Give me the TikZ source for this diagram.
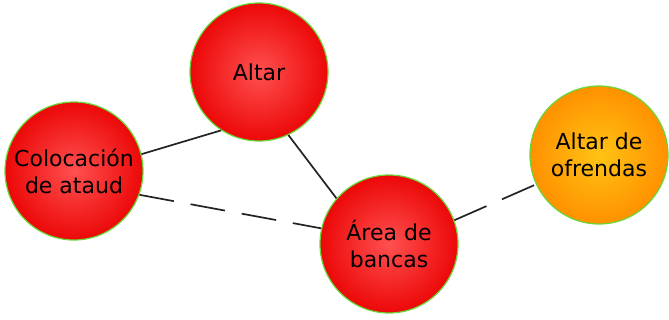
\documentclass[tikz,border=0pt]{standalone}
\usepackage{fontspec}
\setmainfont{DejaVu Sans}
\usepackage{xcolor}
\definecolor{rojoclaro}{RGB}{255,80,80}
\definecolor{rojo}{RGB}{236,8,8}
\definecolor{naranjaclaro}{RGB}{255,195,20}
\definecolor{naranja}{RGB}{255,145,0}
\definecolor{borde}{RGB}{105,215,55}
\definecolor{linea}{RGB}{35,35,35}

\begin{document}
\begin{tikzpicture}[
x=1pt, y=-1pt,
zona/.style={circle, draw=borde, line width=1.2pt, minimum size=138pt, inner sep=0pt,
  align=center, text=black, font=\fontsize{22}{27}\selectfont},
roja/.style={zona, shade, inner color=rojoclaro, outer color=rojo},
naranjada/.style={zona, shade, inner color=naranjaclaro, outer color=naranja},
enlace/.style={draw=linea, line width=1.7pt},
discontinua/.style={dash pattern=on 35pt off 17pt}
]
\useasboundingbox (0,0) rectangle (669,320);

% zonas
\node[roja] (altar) at (259,72) {Altar};
\node[roja] (coloc) at (74,171) {Colocación\\de ataud};
\node[roja] (area) at (389,244) {Área de\\bancas};
\node[naranjada] (ofrendas) at (599,155) {Altar de\\ofrendas};

% enlaces
\draw[enlace] (coloc.14.6) -- (altar.237.4);
\draw[enlace] (altar.295) -- (area.139.6);
\draw[enlace, discontinua] (coloc.-20) -- (area.167.7);
\draw[enlace, discontinua] (area.20) -- (ofrendas.205.6);

\end{tikzpicture}
\end{document}
